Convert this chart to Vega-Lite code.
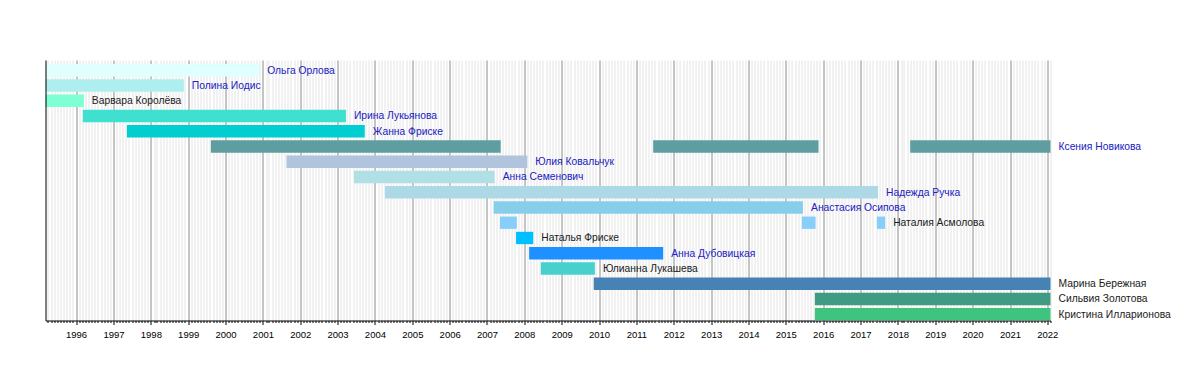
{
  "$schema": "https://vega.github.io/schema/vega-lite/v6.json",
  "autosize": "none",
  "width": 1005,
  "height": 260.5,
  "padding": {"left": 45.5, "top": 60, "right": 149.5, "bottom": 59.5},
  "background": "white",
  "config": {"view": {"stroke": null}},
  "data": {
    "format": {"parse": {"start": "date", "end": "date"}},
    "values": [
      {"name": "Ольга Орлова", "start": "1995-03-08", "end": "2000-11-25", "link": "link"},
      {"name": "Полина Иодис", "start": "1995-03-08", "end": "1998-11-20", "link": "link"},
      {"name": "Варвара Королёва", "start": "1995-03-08", "end": "1996-03-17", "link": "plain"},
      {"name": "Ирина Лукьянова", "start": "1996-03-07", "end": "2003-03-24", "link": "link"},
      {"name": "Жанна Фриске", "start": "1997-05-12", "end": "2003-09-24", "link": "link"},
      {"name": "Ксения Новикова", "start": "1999-08-11", "end": "2007-05-15", "link": "link"},
      {"name": "Ксения Новикова", "start": "2011-06-14", "end": "2015-11-17", "link": "link"},
      {"name": "Ксения Новикова", "start": "2018-05-01", "end": "2022-02-01", "link": "link"},
      {"name": "Юлия Ковальчук", "start": "2001-08-19", "end": "2008-01-30", "link": "link"},
      {"name": "Анна Семенович", "start": "2003-06-10", "end": "2007-03-17", "link": "link"},
      {"name": "Надежда Ручка", "start": "2004-04-08", "end": "2017-06-21", "link": "link"},
      {"name": "Анастасия Осипова", "start": "2007-03-07", "end": "2015-06-18", "link": "link"},
      {"name": "Наталия Асмолова", "start": "2007-05-08", "end": "2007-10-20", "link": "plain"},
      {"name": "Наталия Асмолова", "start": "2015-06-07", "end": "2015-10-19", "link": "plain"},
      {"name": "Наталия Асмолова", "start": "2017-06-10", "end": "2017-08-29", "link": "plain"},
      {"name": "Наталья Фриске", "start": "2007-10-12", "end": "2008-03-28", "link": "plain"},
      {"name": "Анна Дубовицкая", "start": "2008-02-17", "end": "2011-09-20", "link": "link"},
      {"name": "Юлианна Лукашева", "start": "2008-06-10", "end": "2009-11-21", "link": "plain"},
      {"name": "Марина Бережная", "start": "2009-11-10", "end": "2022-02-01", "link": "plain"},
      {"name": "Сильвия Золотова", "start": "2015-10-12", "end": "2022-02-01", "link": "plain"},
      {"name": "Кристина Илларионова", "start": "2015-10-12", "end": "2022-02-01", "link": "plain"}
    ]
  },
  "encoding": {
    "y": {
      "field": "name",
      "type": "nominal",
      "scale": {
        "domain": ["Ольга Орлова", "Полина Иодис", "Варвара Королёва", "Ирина Лукьянова", "Жанна Фриске", "Ксения Новикова", "Юлия Ковальчук", "Анна Семенович", "Надежда Ручка", "Анастасия Осипова", "Наталия Асмолова", "Наталья Фриске", "Анна Дубовицкая", "Юлианна Лукашева", "Марина Бережная", "Сильвия Золотова", "Кристина Илларионова"],
        "paddingInner": 0.19,
        "paddingOuter": 0.138,
        "align": 0.97
      },
      "axis": {"title": null, "labels": false, "ticks": false, "grid": false, "domain": true, "domainColor": "#000", "zindex": 2}
    }
  },
  "layer": [
    {
      "mark": {"type": "bar", "cornerRadius": 0},
      "encoding": {
        "x": {
          "field": "start",
          "type": "temporal",
          "scale": {"type": "utc", "domain": [{"year": 1995, "month": 3, "date": 8, "utc": true}, {"year": 2022, "month": 2, "date": 1, "utc": true}]},
          "axis": {
            "title": null,
            "tickCount": {"interval": "month", "step": 1},
            "labelExpr": "utcmonth(datum.value) == 0 ? utcFormat(datum.value, '%Y') : ''",
            "labelOverlap": false,
            "labelFlush": false,
            "labelBound": false,
            "grid": true,
            "gridColor": {"condition": {"test": "utcmonth(datum.value) == 0", "value": "#8a8a8a"}, "value": "#e4e4e4"},
            "gridWidth": 1,
            "tickColor": "#000",
            "tickSize": {"condition": {"test": "utcmonth(datum.value) == 0", "value": 4}, "value": 2},
            "domainColor": "#000",
            "labelFont": "Liberation Sans",
            "labelFontSize": 9.5,
            "labelColor": "#000",
            "labelPadding": 5,
            "zindex": 0
          }
        },
        "x2": {"field": "end"},
        "color": {
          "field": "name",
          "type": "nominal",
          "legend": null,
          "scale": {
            "domain": ["Ольга Орлова", "Полина Иодис", "Варвара Королёва", "Ирина Лукьянова", "Жанна Фриске", "Ксения Новикова", "Юлия Ковальчук", "Анна Семенович", "Надежда Ручка", "Анастасия Осипова", "Наталия Асмолова", "Наталья Фриске", "Анна Дубовицкая", "Юлианна Лукашева", "Марина Бережная", "Сильвия Золотова", "Кристина Илларионова"],
            "range": ["#e0ffff", "#afeeee", "#7fffd4", "#40e0d0", "#00ced1", "#5f9ea0", "#b0c4de", "#b0e0e6", "#add8e6", "#87ceeb", "#87cefa", "#00bfff", "#1e90ff", "#48d1cc", "#4682b4", "#3f9b82", "#3fc47f"]
          }
        }
      }
    },
    {
      "transform": [
        {"aggregate": [{"op": "max", "field": "end", "as": "last"}], "groupby": ["name", "link"]}
      ],
      "mark": {"type": "text", "align": "left", "baseline": "middle", "dx": 8, "dy": 0.5, "font": "Liberation Sans", "fontSize": 10.3},
      "encoding": {
        "x": {"field": "last", "type": "temporal"},
        "text": {"field": "name"},
        "color": {
          "field": "link",
          "type": "nominal",
          "legend": null,
          "scale": {"domain": ["link", "plain"], "range": ["#2020c0", "#1a1a1a"]}
        }
      }
    }
  ],
  "resolve": {"scale": {"color": "independent"}}
}
